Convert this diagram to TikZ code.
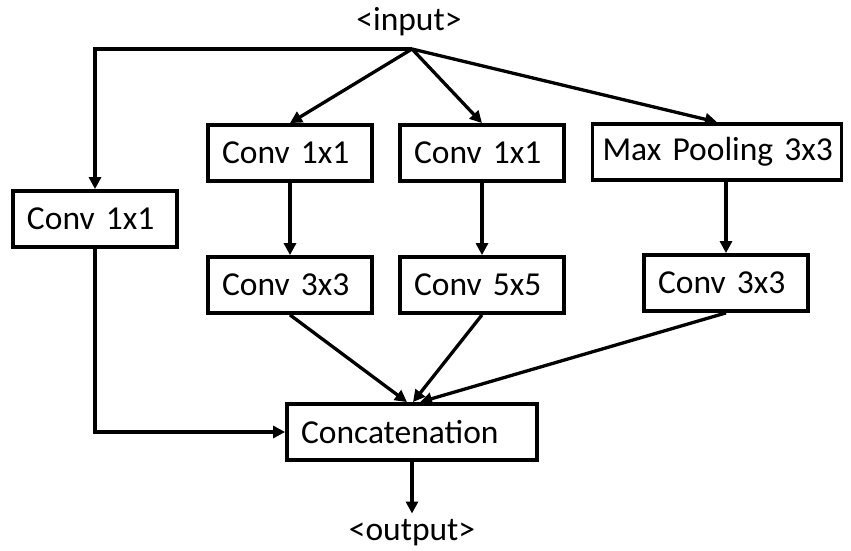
\documentclass[tikz,border=0pt]{standalone}
\usepackage{fontspec}
\setmainfont{Carlito}
\usetikzlibrary{arrows.meta}

\begin{document}
\begin{tikzpicture}[x=1pt,y=-1pt,>={Triangle[length=12pt,width=12pt]},font=\fontsize{33.5}{40}\selectfont,
    block/.style={draw,line width=3.8pt,inner xsep=14pt,inner ysep=0pt,minimum height=56pt,text width=#1,align=left},
    block/.default=136pt,
    link/.style={->,line width=3.3pt}]
    \useasboundingbox (0,0) rectangle (851,551);

    \node[inner sep=0pt] (input) at (409,22) {<input>};
    \coordinate (split) at (412,49);

    % first row
    \node[block] (conv1) at (95,219) {Conv 1x1};
    \node[block] (red3) at (290,153) {Conv 1x1};
    \node[block] (red5) at (482,153) {Conv 1x1};
    \node[block=229pt,inner xsep=10pt] (pool) at (717,152) {\mbox{Max Pooling 3x3}};

    % second row
    \node[block] (conv3) at (290,285) {Conv 3x3};
    \node[block] (conv5) at (482,285) {Conv 5x5};
    \node[block] (poolproj) at (726,283) {Conv 3x3};

    \node[block=222pt] (concat) at (412,432) {Concatenation};
    \node[inner sep=0pt] (output) at (412,533) {<output>};

    \draw[link] (split) -| (conv1);
    \draw[link] (split) -- (red3.north);
    \draw[link] (split) -- (red5.north);
    \draw[link] (split) -- (pool.north);

    \draw[link] (red3) -- (conv3);
    \draw[link] (red5) -- (conv5);
    \draw[link] (pool.south -| poolproj) -- (poolproj);

    \draw[link] (conv3.south) -- ([xshift=-5pt]concat.north);
    \draw[link] (conv5.south) -- ([xshift=1pt]concat.north);
    \draw[link] (poolproj.south) -- ([xshift=8pt]concat.north);
    \draw[link] (conv1) |- (concat);

    \draw[link,shorten >=6pt] (concat) -- (output);
\end{tikzpicture}
\end{document}
